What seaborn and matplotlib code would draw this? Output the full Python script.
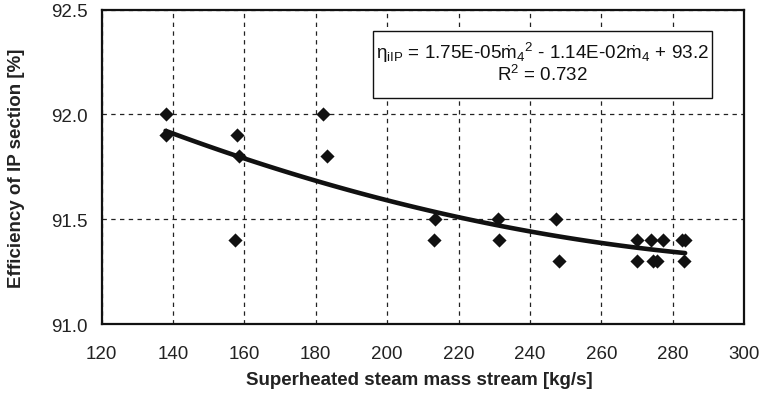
import numpy as np
import pandas as pd
import matplotlib
matplotlib.use("Agg")
import matplotlib.pyplot as plt
import seaborn as sns
from matplotlib.patches import Rectangle

# Data
mass_stream = [137.9, 137.9, 157.8, 158.6, 157.4, 182.1, 183.1, 213.3, 213.1,
               231.0, 231.3, 247.2, 248.2, 270.1, 270.1, 273.8, 274.6, 275.7,
               277.4, 282.6, 283.5, 283.2]
efficiency = [92.0, 91.9, 91.9, 91.8, 91.4, 92.0, 91.8, 91.5, 91.4,
              91.5, 91.4, 91.5, 91.3, 91.4, 91.3, 91.4, 91.3, 91.3,
              91.4, 91.4, 91.4, 91.3]
x_ticks = [120, 140, 160, 180, 200, 220, 240, 260, 280, 300]
y_ticks = [91.0, 91.5, 92.0, 92.5]
x_label = "Superheated steam mass stream [kg/s]"
y_label = "Efficiency of IP section [%]"
eq_line = (r"$\mathregular{\eta_{iIP}}$ = 1.75E-05ṁ$\mathregular{_4{}^2}$"
           r" - 1.14E-02ṁ$\mathregular{_4}$ + 93.2")
r2_line = r"R$\mathregular{^2}$ = 0.732"

df = pd.DataFrame({"x": mass_stream, "y": efficiency})

sns.set_theme(style="white")
plt.rcParams["font.family"] = ["Liberation Sans", "DejaVu Sans"]
plt.rcParams["mathtext.fontset"] = "custom"
plt.rcParams["mathtext.rm"] = "Liberation Sans"
plt.rcParams["mathtext.it"] = "Liberation Sans:italic"

fig = plt.figure(figsize=(7.63, 4.06), dpi=100)
ax = fig.add_axes([0.1333, 0.1995, 0.8418, 0.7741])

ax.set_xlim(120, 300)
ax.set_ylim(91.0, 92.5)
ax.set_xticks(x_ticks)
ax.set_yticks(y_ticks)
ax.set_yticklabels([f"{v:.1f}" for v in y_ticks])
ax.grid(True, color="#222222", linestyle=(0, (3.5, 3.5)), linewidth=0.9)
ax.set_axisbelow(True)

sns.scatterplot(data=df, x="x", y="y", marker="D", s=52, color="#111111",
                linewidth=0, ax=ax, zorder=3)
sns.regplot(data=df, x="x", y="y", order=2, ci=None, scatter=False, ax=ax,
            line_kws={"color": "#111111", "linewidth": 3.3, "zorder": 4})

for s in ax.spines.values():
    s.set_visible(True)
    s.set_color("#111111")
    s.set_linewidth(1.6)

ax.tick_params(axis="x", length=0, labelsize=13.5, colors="#222222", pad=15)
ax.tick_params(axis="y", length=0, labelsize=13.5, colors="#222222", pad=10)
ax.set_xlabel(x_label, fontsize=13.5, fontweight="bold", labelpad=7, color="#222222")
ax.set_ylabel(y_label, fontsize=13.5, fontweight="bold", labelpad=19, color="#222222")
ax.xaxis.set_label_coords(0.494, -0.148)

ax.add_patch(Rectangle((0.4224, 0.7181), 0.5276, 0.2141, transform=ax.transAxes,
                       facecolor="white", edgecolor="#111111", linewidth=1.0, zorder=5))
ax.text(0.6855, 0.8650, eq_line, transform=ax.transAxes, ha="center", va="center",
        fontsize=13.6, color="#111111", zorder=6)
ax.text(0.6855, 0.7950, r2_line, transform=ax.transAxes, ha="center", va="center",
        fontsize=13.5, color="#111111", zorder=6)

fig.savefig("out.png", dpi=100)
